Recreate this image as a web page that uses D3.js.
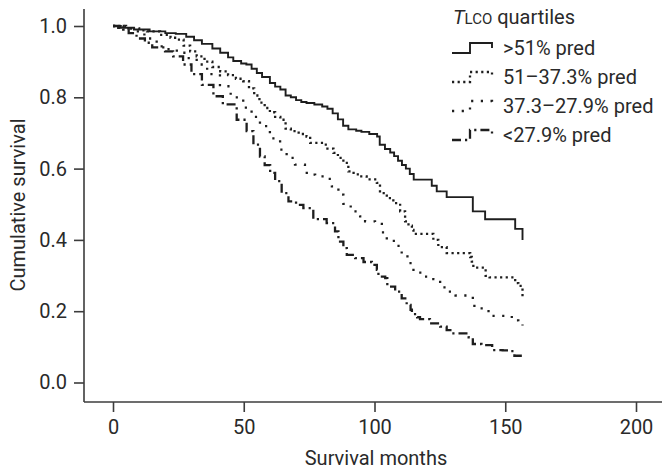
<!DOCTYPE html>
<html><head><meta charset="utf-8">
<script src="https://cdn.jsdelivr.net/npm/d3@7"></script>
<style>
html,body{margin:0;padding:0;background:#fff;}
svg text{font-family:Roboto,"Noto Sans",sans-serif;fill:#2a2a2a;}
</style></head>
<body><svg id="c" width="662" height="470"></svg>
<script>
const xTicks = [0, 50, 100, 150, 200];
const yTicks = [0.0, 0.2, 0.4, 0.6, 0.8, 1.0];
const seriesNames = [">51% pred", "51\u201337.3% pred", "37.3\u201327.9% pred", "<27.9% pred"];

const q1 = [[0,1.0],[3,0.995],[8,0.99],[14,0.985],[20,0.98],[24,0.978],[28,0.97],[31,0.96],[34,0.95],[38,0.937],[41,0.925],[44,0.912],[46,0.902],[49,0.895],[51,0.892],[53,0.88],[55,0.868],[57,0.857],[60,0.84],[62,0.83],[64,0.822],[66,0.805],[68,0.8],[70,0.792],[72,0.787],[74,0.784],[77,0.78],[80,0.774],[82,0.768],[84,0.755],[86,0.738],[88,0.72],[90,0.71],[93,0.706],[95,0.703],[98,0.697],[101,0.69],[102,0.667],[104,0.655],[106,0.645],[107.5,0.635],[109,0.622],[110.5,0.61],[112,0.6],[113.5,0.585],[115,0.569],[121.9,0.552],[123.8,0.536],[127.6,0.52],[137.6,0.48],[142.3,0.458],[153.8,0.431],[156.6,0.40]];
const q2 = [[0,1.0],[5,0.993],[10,0.988],[13,0.985],[18,0.975],[22,0.967],[24.4,0.962],[27,0.945],[29.5,0.929],[32,0.915],[35,0.9],[38,0.885],[41,0.873],[44,0.862],[47,0.852],[49.8,0.845],[52,0.825],[54,0.805],[56,0.785],[58,0.77],[60,0.758],[62,0.745],[64,0.737],[66,0.712],[68,0.705],[71,0.697],[74,0.69],[75.4,0.672],[80.4,0.667],[82,0.656],[84.3,0.644],[86,0.63],[88.1,0.616],[90,0.592],[92,0.584],[94.5,0.578],[97,0.57],[100.9,0.56],[102.1,0.531],[104.7,0.517],[107.2,0.503],[109.8,0.48],[111.7,0.452],[113,0.44],[114.3,0.428],[114.9,0.417],[122.5,0.40],[124.4,0.38],[127.6,0.363],[136.6,0.352],[137.2,0.339],[137.8,0.322],[142.5,0.299],[144,0.295],[153.8,0.279],[155,0.271],[156.6,0.241]];
const q3 = [[0,1.0],[4,0.993],[7.8,0.985],[12,0.965],[16.7,0.943],[20,0.935],[24.4,0.925],[28,0.91],[32,0.892],[36,0.865],[40.9,0.831],[45,0.8],[49.8,0.771],[53,0.745],[56.2,0.719],[60,0.685],[63.9,0.653],[66.4,0.63],[69.6,0.611],[73.4,0.606],[74.1,0.583],[77.3,0.578],[80.7,0.571],[83.7,0.55],[86.2,0.527],[88.1,0.501],[90.9,0.48],[94.5,0.466],[96.4,0.452],[100.2,0.445],[102.8,0.421],[104.7,0.397],[108.3,0.383],[110.4,0.358],[112.6,0.335],[114.9,0.308],[118.7,0.297],[122.5,0.29],[125.1,0.267],[128.3,0.255],[131,0.244],[137.6,0.232],[138.2,0.208],[142.6,0.2],[143.6,0.187],[152.5,0.174],[155,0.168],[156.6,0.16]];
const q4 = [[0,1.0],[2,0.995],[3.9,0.99],[6,0.98],[9,0.965],[12.2,0.953],[15,0.94],[19.9,0.929],[23,0.915],[26.8,0.892],[30,0.865],[34,0.835],[38.4,0.803],[42,0.78],[47.3,0.737],[51.1,0.705],[53.7,0.667],[56.2,0.634],[58,0.61],[60.1,0.588],[62,0.565],[64.5,0.531],[67.1,0.508],[70,0.498],[72.8,0.489],[76.6,0.458],[81.7,0.447],[84.9,0.424],[86.2,0.395],[88.1,0.377],[89.4,0.358],[92.6,0.349],[95.8,0.338],[99,0.33],[100.9,0.316],[101.5,0.297],[104.1,0.293],[104.9,0.269],[107.9,0.255],[110.4,0.236],[112.3,0.218],[113.8,0.204],[114.3,0.192],[116.3,0.183],[117.4,0.178],[121.2,0.166],[125.1,0.157],[127.6,0.147],[129.5,0.138],[136,0.127],[137.6,0.108],[140.9,0.105],[145,0.091],[149,0.09],[152,0.088],[153.5,0.075],[156.6,0.066]];

const svg = d3.select("#c");
const x = d3.scaleLinear().domain([0, 200]).range([113, 636]);
const y = d3.scaleLinear().domain([0, 1]).range([382.5, 26]);
const axisColor = "#3c3c3c";
const fs = 20;

// axes
const gx = svg.append("g").attr("transform", "translate(0,402)")
  .call(d3.axisBottom(x).tickValues(xTicks).tickSize(10).tickPadding(8).tickFormat(d3.format("d")));
gx.select(".domain").attr("d", "M84,0H662");
const gy = svg.append("g").attr("transform", "translate(84,0)")
  .call(d3.axisLeft(y).tickValues(yTicks).tickSize(10).tickPadding(7).tickFormat(d3.format(".1f")));
gy.select(".domain").attr("d", "M0,9V402");
[gx, gy].forEach(g => {
  g.selectAll(".domain, line").attr("stroke", axisColor).attr("stroke-width", 1.6);
  g.selectAll("text").attr("font-size", fs).attr("fill", "#2a2a2a").style("font-family", "Roboto");
});
gx.selectAll("text").attr("dy", "0.71em");

svg.append("text").attr("x", 376).attr("y", 465).attr("text-anchor", "middle")
  .attr("font-size", fs).text("Survival months");
svg.append("text").attr("transform", "translate(25,205) rotate(-90)").attr("text-anchor", "middle")
  .attr("font-size", fs).text("Cumulative survival");

const styles = [
  {dash: null, w: 1.9},
  {dash: "2.2,3.4", w: 2.3},
  {dash: "2.2,7.5", w: 2.3},
  {dash: "9,4,2.2,4", w: 2.3}
];
const data = [q1, q2, q3, q4];
const line = d3.line().x(d => x(d[0])).y(d => y(d[1])).curve(d3.curveStepAfter);
data.forEach((s, i) => {
  svg.append("path").datum(s).attr("d", line).attr("fill", "none")
    .attr("stroke", "#1e1e1e").attr("stroke-width", styles[i].w)
    .attr("stroke-dasharray", styles[i].dash);
});

// legend
const lg = svg.append("g");
const title = lg.append("text").attr("x", 453).attr("y", 24).attr("font-size", fs);
title.append("tspan").attr("font-style", "italic").text("T");
title.append("tspan").attr("font-size", 15).text("LCO");
title.append("tspan").text(" quartiles");
seriesNames.forEach((name, i) => {
  const by = 55 + i * 29;
  lg.append("path")
    .attr("d", `M452,${by - 2}H470V${by - 12}H492V${by - 7}`)
    .attr("fill", "none").attr("stroke", "#1e1e1e").attr("stroke-width", styles[i].w)
    .attr("stroke-dasharray", styles[i].dash);
  lg.append("text").attr("x", 503).attr("y", by).attr("font-size", fs).text(name);
});
</script></body></html>
